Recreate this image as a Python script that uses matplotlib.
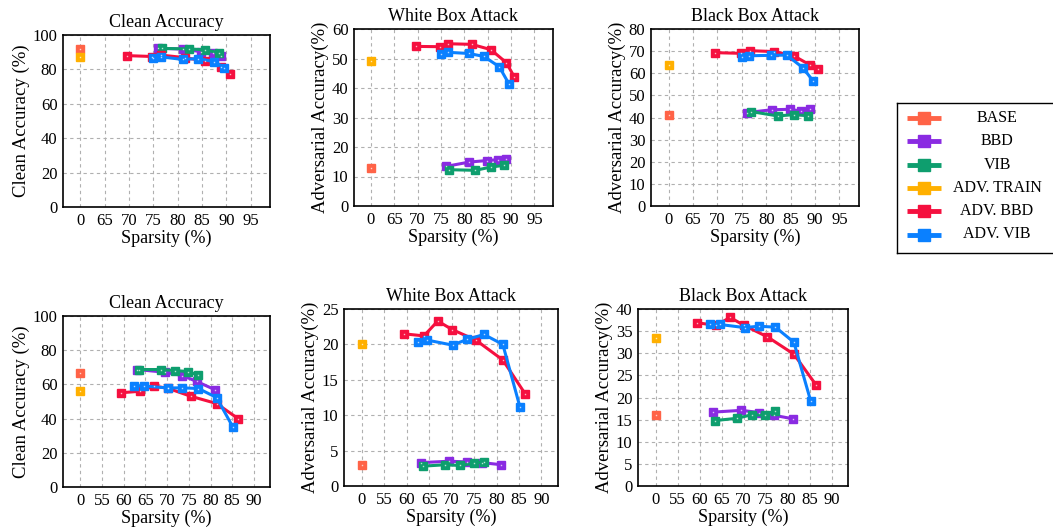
import numpy as np
import matplotlib
matplotlib.use("Agg")
import matplotlib.pyplot as plt

plt.rcParams["font.family"] = ["Liberation Serif", "DejaVu Serif"]
plt.rcParams["mathtext.fontset"] = "stix"

# colours for each method
c_base = "#FF6347"
c_bbd = "#8A2BE2"
c_vib = "#0E9E6E"
c_adv = "#FFB000"
c_advbbd = "#F5103F"
c_advvib = "#0A80FF"

legend_labels = ["BASE", "BBD", "VIB", "ADV. TRAIN", "ADV. BBD", "ADV. VIB"]

# ---- top row (sparsity values) ----
top_advbbd_x = [69.6, 74.8, 76.6, 81.6, 85.7, 89.0, 90.7]
top_advvib_x = [75.0, 76.5, 81.0, 84.2, 87.5, 89.6]
top_bbd_x = [76.0, 81.1, 84.8, 87.2, 89.0]
top_vib_x = [76.8, 82.4, 85.7, 88.6]

# clean accuracy
top_clean_advbbd = [88.0, 87.5, 88.3, 86.8, 84.8, 81.5, 77.2]
top_clean_advvib = [86.8, 87.3, 85.8, 86.3, 84.5, 81.0]
top_clean_bbd = [92.3, 91.8, 90.3, 89.3, 87.9]
top_clean_vib = [92.2, 91.9, 91.4, 89.5]
top_clean_base = 92.0
top_clean_adv = 87.0

# white box
top_white_advbbd = [54.1, 54.0, 55.0, 54.8, 53.0, 48.6, 43.8]
top_white_advvib = [51.6, 52.1, 51.7, 50.7, 47.2, 41.3]
top_white_bbd = [13.4, 14.9, 15.4, 15.7, 16.1]
top_white_vib = [12.3, 12.1, 13.2, 13.8]
top_white_base = 12.9
top_white_adv = 49.0

# black box
top_black_advbbd = [69.3, 69.0, 70.2, 69.8, 67.8, 63.7, 61.8]
top_black_advvib = [67.3, 67.9, 68.1, 68.2, 62.5, 56.5]
top_black_bbd = [42.2, 43.5, 43.7, 42.9, 43.9]
top_black_vib = [42.7, 40.7, 41.3, 40.8]
top_black_base = 41.0
top_black_adv = 63.6

top_ticks = [0, 65, 70, 75, 80, 85, 90, 95]

# ---- bottom row ----
bot_advbbd_x = [59.3, 63.8, 66.9, 70.1, 75.4, 81.4, 86.4]
bot_advvib_x = [62.4, 64.6, 70.2, 73.4, 77.2, 81.4, 85.2]
bot_bbd_x = [63.1, 69.5, 73.5, 76.8, 81.1]
bot_vib_x = [63.6, 68.5, 71.8, 74.9, 77.1]

bot_clean_advbbd = [55.1, 56.0, 59.0, 57.8, 53.1, 48.8, 39.9]
bot_clean_advvib = [59.0, 59.1, 57.9, 58.0, 57.6, 52.3, 34.8]
bot_clean_bbd = [68.7, 67.1, 65.2, 61.7, 56.8]
bot_clean_vib = [68.7, 68.7, 68.1, 67.5, 65.4]
bot_clean_base = 66.9
bot_clean_adv = 56.3

bot_white_advbbd = [21.5, 21.2, 23.3, 22.1, 20.6, 17.8, 13.0]
bot_white_advvib = [20.4, 20.6, 19.9, 20.7, 21.4, 20.0, 11.2]
bot_white_bbd = [3.3, 3.5, 3.4, 3.3, 3.0]
bot_white_vib = [2.8, 3.0, 2.9, 3.2, 3.4]
bot_white_base = 3.0
bot_white_adv = 20.0

bot_black_advbbd = [36.9, 36.3, 38.1, 36.3, 33.7, 29.8, 22.9]
bot_black_advvib = [36.5, 36.5, 35.8, 36.1, 35.9, 32.5, 19.3]
bot_black_bbd = [16.7, 17.1, 16.6, 16.0, 15.2]
bot_black_vib = [14.8, 15.3, 16.1, 16.0, 17.0]
bot_black_base = 16.0
bot_black_adv = 33.4

bot_ticks = [0, 55, 60, 65, 70, 75, 80, 85, 90]

W, H = 1053, 531
fig = plt.figure(figsize=(W / 100, H / 100), dpi=100)


def box(l, r, t, b):
    return [l / W, 1 - b / H, (r - l) / W, (b - t) / H]


def series(ax, x, y, color):
    ax.plot(x, y, "-s", color=color, lw=2.2, ms=6, zorder=3)
    ax.plot(x, y, "s", color="white", ms=1.0, mew=0, zorder=4, alpha=0.7)


def panel(rect, title, ylabel, ticks, xlim, yticks, x, d):
    ax = fig.add_axes(rect)
    zero_pos = ticks[1] - 5
    # baseline points sit at the "0" tick
    series(ax, [zero_pos], [d["base"]], c_base)
    series(ax, [zero_pos], [d["adv"]], c_adv)
    series(ax, x["bbd"], d["bbd"], c_bbd)
    series(ax, x["vib"], d["vib"], c_vib)
    series(ax, x["advbbd"], d["advbbd"], c_advbbd)
    series(ax, x["advvib"], d["advvib"], c_advvib)
    ax.set_xlim(*xlim)
    ax.set_ylim(yticks[0], yticks[-1])
    ax.set_xticks([zero_pos] + ticks[1:])
    ax.set_xticklabels([str(t) for t in ticks])
    ax.set_yticks(yticks)
    ax.grid(True, ls=(0, (3, 3)), color="#b0b0b0", lw=0.8)
    ax.set_axisbelow(True)
    ax.tick_params(length=0, labelsize=12, pad=4)
    for s in ax.spines.values():
        s.set_linewidth(1.2)
    ax.set_title(title, fontsize=13, pad=6)
    ax.set_ylabel(ylabel, fontsize=13.5, labelpad=2)
    ax.set_xlabel("Sparsity (%)", fontsize=13, labelpad=1)
    return ax


top_x = dict(advbbd=top_advbbd_x, advvib=top_advvib_x, bbd=top_bbd_x, vib=top_vib_x)
bot_x = dict(advbbd=bot_advbbd_x, advvib=bot_advvib_x, bbd=bot_bbd_x, vib=bot_vib_x)

panel(box(63, 270, 35, 207), "Clean Accuracy", "Clean Accuracy (%)", top_ticks, (56.4, 99),
      np.arange(0, 101, 20), top_x,
      dict(advbbd=top_clean_advbbd, advvib=top_clean_advvib, bbd=top_clean_bbd,
           vib=top_clean_vib, base=top_clean_base, adv=top_clean_adv))
panel(box(354, 553, 29, 206), "White Box Attack", "Adversarial Accuracy(%)", top_ticks, (56.4, 99),
      np.arange(0, 61, 10), top_x,
      dict(advbbd=top_white_advbbd, advvib=top_white_advvib, bbd=top_white_bbd,
           vib=top_white_vib, base=top_white_base, adv=top_white_adv))
panel(box(651, 859, 29, 206), "Black Box Attack", "Adversarial Accuracy(%)", top_ticks, (56.4, 99),
      np.arange(0, 81, 10), top_x,
      dict(advbbd=top_black_advbbd, advvib=top_black_advvib, bbd=top_black_bbd,
           vib=top_black_vib, base=top_black_base, adv=top_black_adv))

panel(box(63, 270, 316, 487), "Clean Accuracy", "Clean Accuracy (%)", bot_ticks, (46, 93.7),
      np.arange(0, 101, 20), bot_x,
      dict(advbbd=bot_clean_advbbd, advvib=bot_clean_advvib, bbd=bot_clean_bbd,
           vib=bot_clean_vib, base=bot_clean_base, adv=bot_clean_adv))
panel(box(344, 558, 309, 486), "White Box Attack", "Adversarial Accuracy(%)", bot_ticks, (46, 93.7),
      np.arange(0, 26, 5), bot_x,
      dict(advbbd=bot_white_advbbd, advvib=bot_white_advvib, bbd=bot_white_bbd,
           vib=bot_white_vib, base=bot_white_base, adv=bot_white_adv))
panel(box(638, 848, 309, 486), "Black Box Attack", "Adversarial Accuracy(%)", bot_ticks, (46, 93.7),
      np.arange(0, 41, 5), bot_x,
      dict(advbbd=bot_black_advbbd, advvib=bot_black_advvib, bbd=bot_black_bbd,
           vib=bot_black_vib, base=bot_black_base, adv=bot_black_adv))

# legend box drawn by hand so the text can be centred like the original
lg = fig.add_axes([897 / W, 1 - 253 / H, 170 / W, 150 / H])
lg.set_xlim(0, 170)
lg.set_ylim(150, 0)
lg.set_xticks([])
lg.set_yticks([])
for s in lg.spines.values():
    s.set_linewidth(1.0)
cols = [c_base, c_bbd, c_vib, c_adv, c_advbbd, c_advvib]
for i, (lab, c) in enumerate(zip(legend_labels, cols)):
    yy = 15 + i * 23.3
    lg.plot([10, 44], [yy, yy], color=c, lw=3.5, solid_capstyle="butt")
    lg.plot([27], [yy], "s", color=c, ms=9)
    lg.text(100, yy, lab, ha="center", va="center", fontsize=11.5)

fig.savefig("out.png", dpi=100)
